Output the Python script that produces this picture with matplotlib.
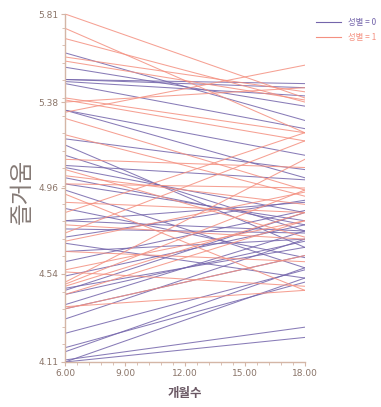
import matplotlib
matplotlib.use("Agg")
import matplotlib.pyplot as plt
from matplotlib.ticker import AutoMinorLocator, FixedLocator, FormatStrFormatter
from matplotlib.lines import Line2D

plt.rcParams['font.family'] = ['Noto Sans CJK KR', 'DejaVu Sans']

# time points (months)
x_points = [6.0, 18.0]

# group 0 (성별 = 0): value at 6 months, value at 18 months
g0_start = [5.62, 5.55, 5.49, 5.49, 5.48, 5.47, 5.34, 5.34, 5.17, 5.07,
            5.06, 5.01, 4.95, 4.80, 4.80, 4.76, 4.69, 4.65, 4.53, 4.47,
            4.46, 4.39, 4.37, 4.32, 4.25, 4.18, 4.16, 4.12, 4.11, 4.11,
            5.12, 4.98, 4.72, 4.60, 4.44, 5.20, 4.86]
g0_end = [5.29, 5.36, 5.47, 5.45, 5.41, 5.25, 5.12, 5.01, 4.67, 5.00,
          4.84, 4.78, 4.57, 4.89, 4.75, 4.74, 4.52, 4.71, 4.78, 4.67,
          4.84, 4.75, 4.63, 4.71, 4.56, 4.50, 4.57, 4.28, 4.23, 4.52,
          4.75, 4.80, 4.90, 4.85, 4.70, 5.05, 4.62]

# group 1 (성별 = 1)
g1_start = [5.81, 5.74, 5.69, 5.60, 5.58, 5.40, 5.39, 5.38, 5.33, 5.30,
            5.10, 5.05, 4.98, 4.89, 4.84, 4.74, 4.56, 4.55, 4.49, 4.38,
            4.48, 4.37, 4.93, 4.78, 4.70, 4.44, 4.65, 5.02, 4.50, 5.22]
g1_end = [5.40, 5.23, 5.38, 5.43, 5.39, 5.23, 5.19, 5.45, 5.56, 4.95,
          5.06, 4.72, 4.96, 4.84, 5.23, 5.19, 4.80, 4.48, 4.95, 4.46,
          4.84, 4.63, 4.46, 4.71, 4.94, 4.80, 4.60, 4.88, 5.10, 4.92]

y_ticks = [4.11, 4.54, 4.96, 5.38, 5.81]
x_ticks = [6, 9, 12, 15, 18]
legend_labels = ['성별 = 0', '성별 = 1']
x_label = '개월수'
y_label = '즐거움'

c0 = '#7465ab'
c1 = '#f49080'
spine_c = '#d4b6a6'
tick_c = '#8a7468'

fig = plt.figure(figsize=(3.81, 4.07), dpi=100)
ax = fig.add_axes([0.171, 0.1106, 0.629, 0.855])

for s, e in zip(g0_start, g0_end):
    ax.plot(x_points, [s, e], color=c0, lw=0.75, alpha=0.85)
for s, e in zip(g1_start, g1_end):
    ax.plot(x_points, [s, e], color=c1, lw=0.75, alpha=0.85)

ax.set_xlim(6, 18)
ax.set_ylim(4.11, 5.81)
ax.yaxis.set_major_locator(FixedLocator(y_ticks))
ax.xaxis.set_major_locator(FixedLocator(x_ticks))
ax.yaxis.set_minor_locator(AutoMinorLocator(5))
ax.xaxis.set_minor_locator(AutoMinorLocator(5))
ax.yaxis.set_major_formatter(FormatStrFormatter('%.2f'))
ax.xaxis.set_major_formatter(FormatStrFormatter('%.2f'))

for side in ['top', 'right']:
    ax.spines[side].set_visible(False)
for side in ['left', 'bottom']:
    ax.spines[side].set_color(spine_c)
    ax.spines[side].set_linewidth(1.0)

ax.tick_params(which='major', length=3, width=0.8, color=spine_c,
               labelcolor=tick_c, labelsize=6.5, pad=2)
ax.tick_params(which='minor', length=2, width=0.6, color=spine_c)
for lab in ax.get_xticklabels() + ax.get_yticklabels():
    lab.set_family(['Liberation Sans Narrow', 'DejaVu Sans'])

fig.text(0.058, 0.53, y_label, rotation=90, fontsize=17, color='#857a76',
         fontweight='light', ha='center', va='center')
fig.text(0.486, 0.033, x_label, fontsize=9, fontweight='bold', color='#6a5864',
         ha='center', va='center')

handles = [Line2D([], [], color=c0, lw=0.8), Line2D([], [], color=c1, lw=0.8)]
leg = fig.legend(handles, legend_labels, loc='upper left',
                 bbox_to_anchor=(0.81, 0.975), frameon=False, fontsize=6,
                 handlelength=3, handletextpad=0.8, labelspacing=0.8)
for t, c in zip(leg.get_texts(), [c0, c1]):
    t.set_color(c)

fig.savefig('out.png', dpi=100)
